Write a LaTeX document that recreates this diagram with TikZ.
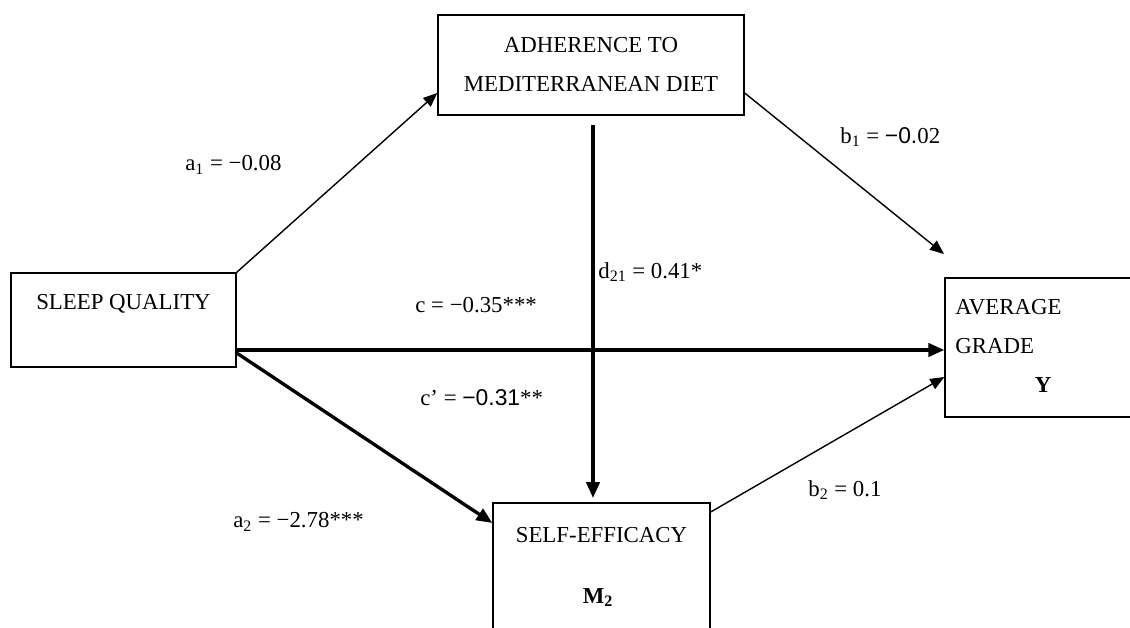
\documentclass[tikz,border=0pt]{standalone}
\usepackage{fontspec}
\setmainfont{Liberation Serif}
\newfontfamily\arialfont{Liberation Sans}
\usetikzlibrary{arrows.meta}

\begin{document}
\begin{tikzpicture}[x=0.02cm, y=-0.02cm, font=\fontsize{13}{15}\selectfont]

	\tikzset{
		box/.style={draw, line width=0.8pt, inner sep=0pt},
		txt/.style={anchor=base, inner sep=0pt},
		path/.style={line width=0.8pt, -{Triangle[length=8pt, width=6.5pt]}},
		mainpath/.style={line width=1.9pt, -{Triangle[length=9pt, width=7.5pt]}},
	}

	\useasboundingbox (0,0) rectangle (1130,628);
	\clip (0,0) rectangle (1130,628);

	% boxes
	\node [box, minimum width=306*0.02cm, minimum height=100*0.02cm] (diet) at (591,65) {};
	\node [box, minimum width=225*0.02cm, minimum height=94*0.02cm] (sleep) at (123.5,320) {};
	\node [box, minimum width=200*0.02cm, minimum height=139*0.02cm] (grade) at (1045,347.5) {};
	\node [box, minimum width=217*0.02cm, minimum height=140*0.02cm] (eff) at (601.5,573) {};

	\node [txt] (diet1) at (591,53) {ADHERENCE TO};
	\node [txt] (diet2) at (591,92) {MEDITERRANEAN DIET};
	\node [txt] (sleep1) at (123.5,310) {SLEEP QUALITY};
	\node [txt, anchor=base west] (grade1) at (955,315) {AVERAGE};
	\node [txt, anchor=base west] (grade2) at (955,354) {GRADE};
	\node [txt] (grade3) at (1043,393) {\textbf{Y}};
	\node [txt] (eff1) at (601.5,542) {SELF-EFFICACY};
	\node [txt] (eff2) at (598,603) {\textbf{M\textsubscript{2}}};

	% paths
	\coordinate (b1end) at (944,254);
	\coordinate (dtop) at (593,125);
	\coordinate (dend) at (593,498);

	\draw [path] (sleep.north east) -- (diet.west |- 0,93);
	\draw [path] (diet.east |- 0,93) -- (b1end);
	\draw [mainpath] (sleep.east |- 0,350) -- (grade.west |- 0,350);
	\draw [mainpath] (sleep.east |- 0,353) -- (eff.west |- 0,523);
	\draw [path] (eff.east |- 0,512) -- (grade.west |- 0,377);
	\draw [mainpath] (dtop) -- (dend);

	% coefficients
	\node [anchor=west, inner sep=0pt] (a1) at (185,165) {a\textsubscript{1} = −0.08};
	\node [anchor=west, inner sep=0pt] (b1) at (840,137) {b\textsubscript{1} = {\arialfont −0.}02};
	\node [anchor=west, inner sep=0pt] (d21) at (598,272) {d\textsubscript{21} = 0.41*};
	\node [anchor=west, inner sep=0pt] (c) at (415,305) {c = −0.35***};
	\node [anchor=west, inner sep=0pt] (cp) at (420,398) {c’ = {\arialfont −0.31}**};
	\node [anchor=west, inner sep=0pt] (a2) at (233,522) {a\textsubscript{2} = −2.78***};
	\node [anchor=west, inner sep=0pt] (b2) at (808,490) {b\textsubscript{2} = 0.1};

\end{tikzpicture}
\end{document}
